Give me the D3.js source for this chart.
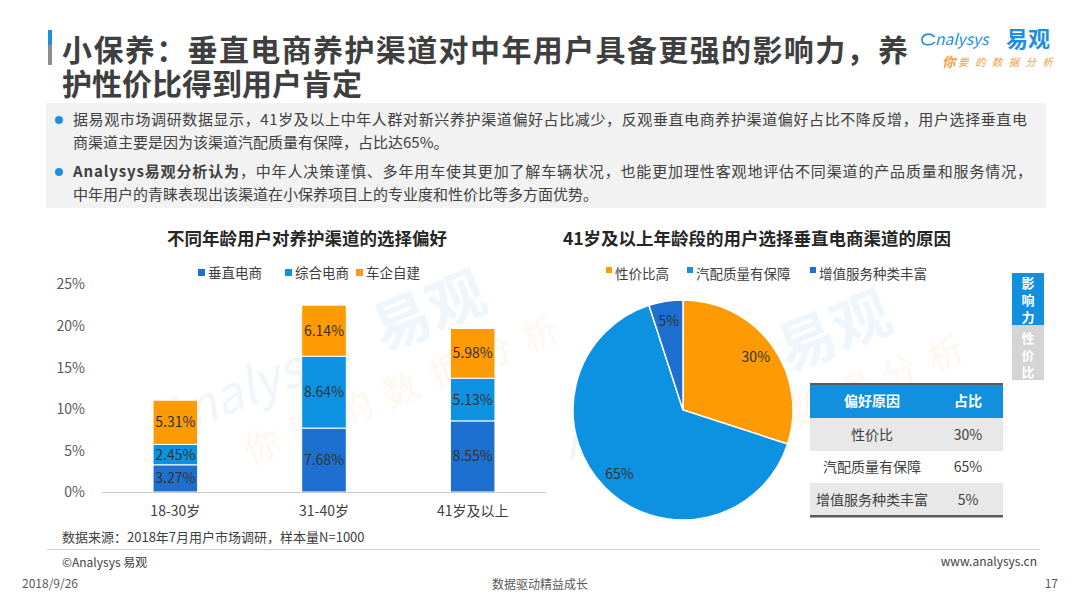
<!DOCTYPE html>
<html lang="zh">
<head>
<meta charset="UTF-8">
<title>小保养：垂直电商养护渠道对中年用户具备更强的影响力</title>
<script src="https://d3js.org/d3.v7.min.js"></script>
<style>
  body { margin: 0; background: #fff; }
  svg { display: block; font-family: "Noto Sans CJK SC", "Noto Sans", sans-serif; }
</style>
</head>
<body>
<div id="chart"></div>
<script>
// ---- data ----
const ages = ["18-30岁", "31-40岁", "41岁及以上"];
const channels = ["垂直电商", "综合电商", "车企自建"];
const verticalEC = [3.27, 7.68, 8.55];
const generalEC = [2.45, 8.64, 5.13];
const oemOwned = [5.31, 6.14, 5.98];
const yTicks = [0, 5, 10, 15, 20, 25];

const reasons = ["性价比高", "汽配质量有保障", "增值服务种类丰富"];
const reasonShares = [30, 65, 5];
const tableHeader = ["偏好原因", "占比"];
const tableReasons = ["性价比", "汽配质量有保障", "增值服务种类丰富"];

const bullets = [
  ["据易观市场调研数据显示，41岁及以上中年人群对新兴养护渠道偏好占比减少，反观垂直电商养护渠道偏好占比不降反增，用户选择垂直电",
   "商渠道主要是因为该渠道汽配质量有保障，占比达65%。"],
  ["，中年人决策谨慎、多年用车使其更加了解车辆状况，也能更加理性客观地评估不同渠道的产品质量和服务情况，",
   "中年用户的青睐表现出该渠道在小保养项目上的专业度和性价比等多方面优势。"]
];

const barColors = ["#1e70d0", "#0c92e0", "#fd9a04"];
const pieColors = ["#fd9a04", "#0c92e0", "#1e6fcf"];

const W = 1080, H = 608;
const svg = d3.select("#chart").append("svg")
  .attr("width", W).attr("height", H);

svg.append("rect").attr("width", W).attr("height", H).attr("fill", "#fff");

// ---- watermarks (faint) ----
function watermark(x, y) {
  const g = svg.append("g")
    .attr("transform", `translate(${x},${y}) rotate(-22)`)
    .attr("opacity", 0.07);
  g.append("text").text("Analysys").attr("font-size", 50).attr("fill", "#1e8fe0")
    .attr("font-style", "italic");
  g.append("text").text("易观").attr("x", 235).attr("font-size", 58)
    .attr("font-weight", "bold").attr("fill", "#1e8fe0");
  g.append("text").text("你要的数据分析").attr("x", 70).attr("y", 55)
    .attr("font-size", 36).attr("fill", "#f5a040").attr("letter-spacing", 14);
}
watermark(165, 440);
watermark(570, 460);

// ---- header ----
svg.append("rect").attr("x", 48).attr("y", 30).attr("width", 4).attr("height", 15).attr("fill", "#1e8fe0");
svg.append("rect").attr("x", 48).attr("y", 45).attr("width", 4).attr("height", 20).attr("fill", "#8c8c8c");

const title = svg.append("g").attr("fill", "#3f3f3f").attr("font-weight", "bold").attr("font-size", 30);
title.append("text").attr("x", 62).attr("y", 61)
  .attr("textLength", 846).attr("lengthAdjust", "spacing")
  .text("小保养：垂直电商养护渠道对中年用户具备更强的影响力，养");
title.append("text").attr("x", 62).attr("y", 95)
  .attr("textLength", 300).attr("lengthAdjust", "spacing")
  .text("护性价比得到用户肯定");

// logo
const logo = svg.append("g");
logo.append("path")
  .attr("d", "M935,37 C930,32 922,34 922,40 C922,46 931,46 935,42")
  .attr("fill", "none").attr("stroke", "#1e8fe0").attr("stroke-width", 1.6);
logo.append("text").attr("x", 935).attr("y", 45).attr("font-size", 15.5)
  .attr("font-style", "italic").attr("fill", "#1e8fe0").text("nalysys");
logo.append("text").attr("x", 1006).attr("y", 47).attr("font-size", 22)
  .attr("font-weight", "bold").attr("fill", "#1e8fe0").text("易观");
logo.append("text").attr("x", 942).attr("y", 67).attr("font-size", 13.5)
  .attr("font-weight", "bold").attr("font-style", "italic").attr("fill", "#f5a040").text("你");
logo.append("text").attr("x", 958).attr("y", 66).attr("font-size", 10.5)
  .attr("font-style", "italic").attr("fill", "#f5a040")
  .attr("textLength", 95).attr("lengthAdjust", "spacing").text("要的数据分析");

// summary box
svg.append("rect").attr("x", 46).attr("y", 103).attr("width", 1000).attr("height", 105).attr("fill", "#f2f2f2");
const bl = svg.append("g").attr("font-size", 15).attr("fill", "#404040");
const lineY = [[125, 148], [177, 200]];
bullets.forEach((b, i) => {
  bl.append("circle").attr("cx", 59).attr("cy", lineY[i][0] - 5).attr("r", 4).attr("fill", "#1e8fe0");
  const t1 = bl.append("text").attr("x", 73).attr("y", lineY[i][0]);
  if (i === 1) {
    t1.attr("textLength", 959).attr("lengthAdjust", "spacing");
    t1.append("tspan").attr("font-weight", "bold").text("Analysys易观分析认为");
    t1.append("tspan").text(b[0]);
  } else {
    t1.attr("textLength", 954).attr("lengthAdjust", "spacing").text(b[0]);
  }
  bl.append("text").attr("x", 73).attr("y", lineY[i][1]).text(b[1]);
});

// ---- stacked bar chart ----
svg.append("text").attr("x", 307).attr("y", 245).attr("text-anchor", "middle")
  .attr("font-size", 17.5).attr("font-weight", "bold").attr("fill", "#262626")
  .text("不同年龄用户对养护渠道的选择偏好");

const legendX = [198, 285, 356];
channels.forEach((c, i) => {
  svg.append("rect").attr("x", legendX[i]).attr("y", 269).attr("width", 7).attr("height", 7).attr("fill", barColors[i]);
  svg.append("text").attr("x", legendX[i] + 10).attr("y", 278).attr("font-size", 13.5)
    .attr("fill", "#404040").text(c);
});

const x = d3.scaleBand().domain(ages).range([101, 547]).paddingInner(0.7).paddingOuter(0.35);
const y = d3.scaleLinear().domain([0, 25]).range([492, 284]);

const rows = ages.map((a, i) => ({ age: a, "垂直电商": verticalEC[i], "综合电商": generalEC[i], "车企自建": oemOwned[i] }));
const stacked = d3.stack().keys(channels)(rows);

const yAxis = svg.append("g").attr("transform", "translate(88,0)")
  .call(d3.axisLeft(y).tickValues(yTicks).tickSize(0).tickFormat(d => d + "%"));
yAxis.select(".domain").remove();
yAxis.selectAll("text").attr("font-size", 14).attr("fill", "#595959")
  .attr("font-family", "\"Noto Sans CJK SC\", sans-serif").attr("dy", "0.35em");

stacked.forEach((layer, k) => {
  const g = svg.append("g");
  g.selectAll("rect").data(layer).join("rect")
    .attr("x", d => x(d.data.age))
    .attr("y", d => y(d[1]))
    .attr("width", x.bandwidth())
    .attr("height", d => y(d[0]) - y(d[1]))
    .attr("fill", barColors[k])
    .attr("stroke", "#fff").attr("stroke-width", 1);
  g.selectAll("text").data(layer).join("text")
    .attr("x", d => x(d.data.age) + x.bandwidth() / 2)
    .attr("y", d => (y(d[0]) + y(d[1])) / 2)
    .attr("dy", "0.36em")
    .attr("text-anchor", "middle").attr("font-size", 14).attr("fill", "#333")
    .text(d => (d[1] - d[0]).toFixed(2) + "%");
});

svg.append("line").attr("x1", 102).attr("x2", 546).attr("y1", 492.5).attr("y2", 492.5)
  .attr("stroke", "#c8c8c8").attr("stroke-width", 1);

const xAxis = svg.append("g").attr("transform", "translate(0,492)")
  .call(d3.axisBottom(x).tickSize(0).tickPadding(14));
xAxis.select(".domain").remove();
xAxis.selectAll("text").attr("font-size", 14).attr("fill", "#404040")
  .attr("font-family", "\"Noto Sans CJK SC\", sans-serif");

svg.append("text").attr("x", 62).attr("y", 542).attr("font-size", 13).attr("fill", "#404040")
  .text("数据来源：2018年7月用户市场调研，样本量N=1000");

// ---- pie chart ----
svg.append("text").attr("x", 757).attr("y", 245).attr("text-anchor", "middle")
  .attr("font-size", 17.5).attr("font-weight", "bold").attr("fill", "#262626")
  .text("41岁及以上年龄段的用户选择垂直电商渠道的原因");

const pieLegendX = [606, 687, 810];
reasons.forEach((r, i) => {
  svg.append("rect").attr("x", pieLegendX[i]).attr("y", 267).attr("width", 6).attr("height", 6).attr("fill", pieColors[i]);
  svg.append("text").attr("x", pieLegendX[i] + 9).attr("y", 279).attr("font-size", 13.5)
    .attr("fill", "#404040").text(r);
});

const pie = d3.pie().sort(null).value(d => d)(reasonShares);
const arc = d3.arc().innerRadius(0).outerRadius(110);
const labelArc = d3.arc().innerRadius(90).outerRadius(90);
const pg = svg.append("g").attr("transform", "translate(683,410)");
pg.selectAll("path").data(pie).join("path")
  .attr("d", arc).attr("fill", (d, i) => pieColors[i])
  .attr("stroke", "#fff").attr("stroke-width", 1.5);
pg.selectAll("text").data(pie).join("text")
  .attr("transform", d => `translate(${labelArc.centroid(d)})`)
  .attr("dy", "0.36em").attr("text-anchor", "middle")
  .attr("font-size", 14).attr("fill", "#333")
  .text(d => d.data + "%");

// ---- table ----
const tx = 810, tw = 193, colX = [872, 968];
svg.append("rect").attr("x", tx).attr("y", 384).attr("width", tw).attr("height", 34).attr("fill", "#1290dd");
svg.append("rect").attr("x", tx).attr("y", 383).attr("width", tw).attr("height", 2).attr("fill", "#5a5a5a");
tableHeader.forEach((h, j) => {
  svg.append("text").attr("x", colX[j]).attr("y", 406).attr("text-anchor", "middle")
    .attr("font-size", 14).attr("font-weight", "bold").attr("fill", "#fff").text(h);
});
const rowTop = [418, 451, 483], rowH = [33, 32, 33];
tableReasons.forEach((r, i) => {
  svg.append("rect").attr("x", tx).attr("y", rowTop[i]).attr("width", tw).attr("height", rowH[i])
    .attr("fill", i % 2 === 0 ? "#e8e8e8" : "#fff");
  const cy = rowTop[i] + rowH[i] / 2 + 5;
  svg.append("text").attr("x", colX[0]).attr("y", cy).attr("text-anchor", "middle")
    .attr("font-size", 14).attr("fill", "#404040").text(r);
  svg.append("text").attr("x", colX[1]).attr("y", cy).attr("text-anchor", "middle")
    .attr("font-size", 14).attr("fill", "#404040").text(reasonShares[i] + "%");
});
svg.append("rect").attr("x", tx).attr("y", 515).attr("width", tw).attr("height", 2.5).attr("fill", "#5a5a5a");

// ---- side tab ----
svg.append("rect").attr("x", 1012).attr("y", 273).attr("width", 32).attr("height", 52).attr("fill", "#1290dd");
svg.append("rect").attr("x", 1012).attr("y", 325).attr("width", 32).attr("height", 55).attr("fill", "#d4d4d4");
["影", "响", "力"].forEach((c, i) => {
  svg.append("text").attr("x", 1028).attr("y", 288 + i * 17).attr("text-anchor", "middle")
    .attr("font-size", 13).attr("font-weight", "bold").attr("fill", "#fff").text(c);
});
["性", "价", "比"].forEach((c, i) => {
  svg.append("text").attr("x", 1028).attr("y", 343 + i * 17).attr("text-anchor", "middle")
    .attr("font-size", 13).attr("font-weight", "bold").attr("fill", "#fff").text(c);
});

// ---- footer ----
svg.append("line").attr("x1", 47).attr("x2", 1040).attr("y1", 549.5).attr("y2", 549.5)
  .attr("stroke", "#d0d0d0");
svg.append("text").attr("x", 62).attr("y", 567).attr("font-size", 12).attr("fill", "#404040").text("©Analysys 易观");
svg.append("text").attr("x", 1037).attr("y", 566).attr("text-anchor", "end").attr("font-size", 12)
  .attr("fill", "#404040").text("www.analysys.cn");
svg.append("text").attr("x", 22).attr("y", 588).attr("font-size", 12).attr("fill", "#595959").text("2018/9/26");
svg.append("text").attr("x", 540).attr("y", 589).attr("text-anchor", "middle").attr("font-size", 12)
  .attr("fill", "#595959").text("数据驱动精益成长");
svg.append("text").attr("x", 1058).attr("y", 588).attr("text-anchor", "end").attr("font-size", 12)
  .attr("fill", "#595959").text("17");
</script>
</body>
</html>
